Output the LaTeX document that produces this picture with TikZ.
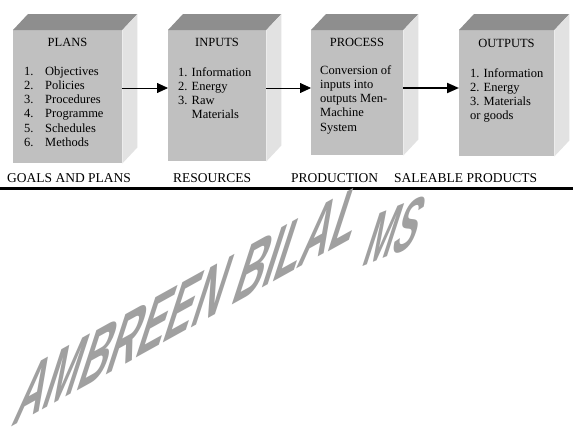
\documentclass[tikz,border=0pt]{standalone}
\usepackage{fontspec}
\setmainfont{Liberation Serif}
\newfontfamily\wmfont{Liberation Sans}
\usepackage{pdfrender}
\usetikzlibrary{arrows.meta}
\definecolor{frontgray}{HTML}{C0C0C0}
\definecolor{topgray}{HTML}{8E8E8E}
\definecolor{sidegray}{HTML}{E2E2E2}
\definecolor{wmgray}{HTML}{A0A0A0}
\newcommand\boxlines[1]{\begin{tabular}[t]{@{}l@{}}#1\end{tabular}}
\tikzset{
  front/.style={fill=frontgray, draw=none, inner sep=0pt, anchor=north west},
  boxtxt/.style={inner sep=0pt, anchor=base west, font=\fontsize{12.5}{14.3}\selectfont},
  boxtitle/.style={inner sep=0pt, anchor=base, font=\fontsize{12.5}{14.3}\selectfont},
  lbl/.style={inner sep=0pt, anchor=base west, font=\fontsize{13.5}{16}\selectfont},
  arr/.style={-{Triangle[length=11pt,width=10pt]}, line width=0.8pt},
  arrthick/.style={-{Triangle[length=12pt,width=10pt]}, line width=2pt},
  wm/.style={inner sep=0pt, anchor=base west, transform shape, text=wmgray}
}
\newcommand\cubesides[1]{%
  \fill[topgray] (#1.north west) -- ++(15,-16) -- ([shift={(15,-16)}]#1.north east) -- (#1.north east) -- cycle;
  \fill[sidegray] (#1.north east) -- ++(15,-16) -- ([shift={(15,-16)}]#1.south east) -- (#1.south east) -- cycle;
}
\begin{document}
\begin{tikzpicture}[x=1pt,y=-1pt]
\useasboundingbox (0,0) rectangle (573,429);
\fill[white] (0,0) rectangle (573,429);

% boxes
\node[front, minimum width=109pt, minimum height=133pt] (b1) at (13,30) {};
\cubesides{b1}
\node[front, minimum width=98pt, minimum height=131pt] (b2) at (168,30) {};
\cubesides{b2}
\node[front, minimum width=92pt, minimum height=125pt] (b3) at (311,30) {};
\cubesides{b3}
\node[front, minimum width=95pt, minimum height=126pt] (b4) at (459,30) {};
\cubesides{b4}

% titles
\node[boxtitle] (t1) at (67.5,46) {PLANS};
\node[boxtitle] (t2) at (217,46) {INPUTS};
\node[boxtitle] (t3) at (357,46) {PROCESS};
\node[boxtitle] (t4) at (506.5,47) {OUTPUTS};

% contents
\node[boxtxt] (l1) at (24,75) {\boxlines{\makebox[21pt][l]{1.}Objectives\\
\makebox[21pt][l]{2.}Policies\\
\makebox[21pt][l]{3.}Procedures\\
\makebox[21pt][l]{4.}Programme\\
\makebox[21pt][l]{5.}Schedules\\
\makebox[21pt][l]{6.}Methods}};
\node[boxtxt] (l2) at (178,76) {\boxlines{1. Information\\2. Energy\\3. Raw\\\phantom{3. }Materials}};
\node[boxtxt] (l3) at (320,74) {\boxlines{Conversion of\\inputs into\\outputs Men-\\Machine\\System}};
\node[boxtxt] (l4) at (470,77) {\boxlines{1. Information\\2. Energy\\3. Materials\\or goods}};

% arrows
\draw[arr] (b1.east |- 0,88) -- (b2.west |- 0,88);
\draw[arr] (b2.east |- 0,88) -- (b3.west |- 0,88);
\draw[arrthick] (b3.east |- 0,88) -- (b4.west |- 0,88);

% bottom labels
\node[lbl] (g1) at (7,182) {GOALS AND PLANS};
\node[lbl] (g2) at (173,182) {RESOURCES};
\node[lbl] (g3) at (291,182) {PRODUCTION};
\node[lbl] (g4) at (394,182) {SALEABLE PRODUCTS};
\coordinate (la) at (0,188.5);
\coordinate (lb) at (573,188.5);
\draw[line width=3pt] (la) -- (lb);

% watermark
\begin{scope}[shift={(10,428)}, cm={0.875,0.485,0.606,1.865,(0,0)}]
\node[wm, font=\wmfont\bfseries\fontsize{47}{47}\selectfont] (wm1) at (0,0)
  {\textpdfrender{TextRenderingMode=1,LineWidth=0.4}{AMBREEN BILAL}};
\end{scope}
\begin{scope}[shift={(360,268)}, cm={0.927,0.375,0.658,2.03,(0,0)}]
\node[wm, font=\wmfont\bfseries\fontsize{38}{38}\selectfont] (wm2) at (0,0)
  {\textpdfrender{TextRenderingMode=1,LineWidth=0.4}{MS}};
\end{scope}
\end{tikzpicture}
\end{document}
